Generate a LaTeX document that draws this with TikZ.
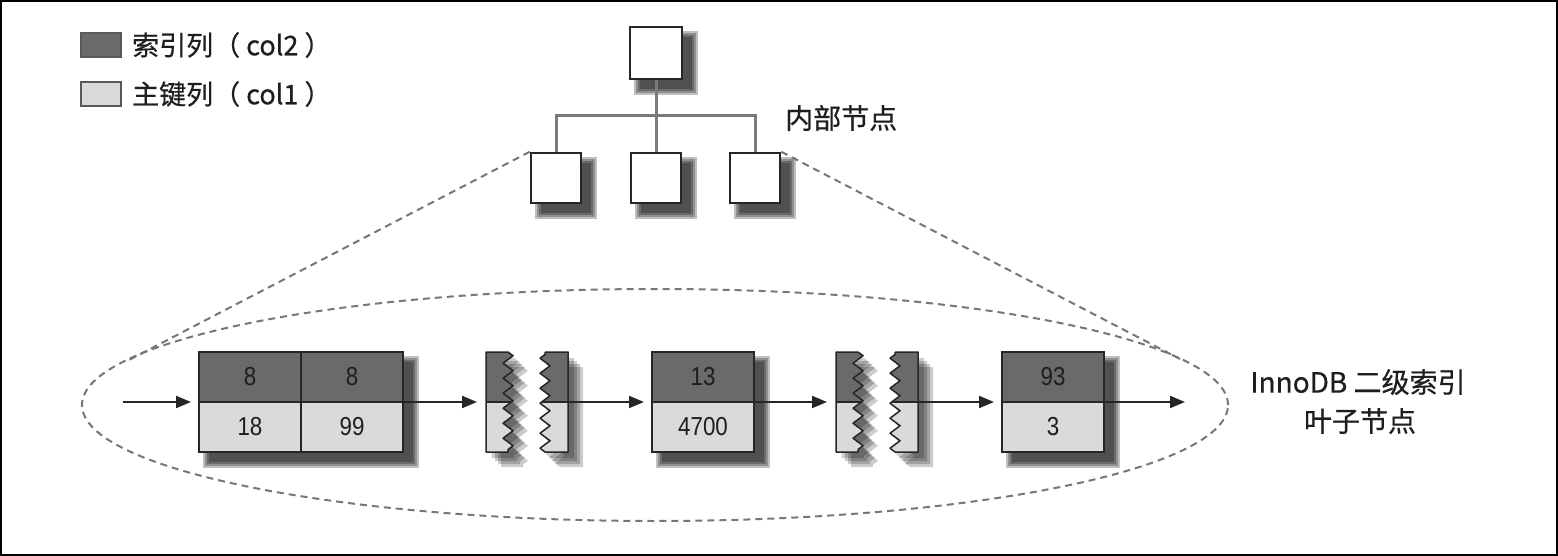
\documentclass[tikz,border=0pt]{standalone}
\usepackage{fontspec}
\setmainfont{Liberation Sans}
\newfontfamily\numfont[FakeStretch=0.86]{Liberation Sans}
\newfontfamily\cjk[FakeBold=0.5]{Noto Sans CJK SC}
\usetikzlibrary{arrows.meta,decorations.pathmorphing}
\definecolor{darkc}{HTML}{6A6A6A}
\definecolor{lightc}{HTML}{DADADA}
\definecolor{linec}{HTML}{262626}
\definecolor{dashc}{HTML}{777777}
\definecolor{treec}{HTML}{7A7A7A}
\definecolor{txtc}{HTML}{1E1E1E}
\newcommand{\fuzzshadow}[4]{%
  \foreach \q in {6,4,2,0}{\fill[black,opacity=0.25] (#1+10-\q,#2+10-\q) rectangle (#3+10+\q,#4+10+\q);}}
\newcommand{\tornpart}[1]{%
  \foreach \d in {6,9,12,15}{\fill[black,opacity=0.2,shift={(\d,\d)}] #1;}%
  \begin{scope}\clip #1;
    \fill[darkc] (400,340) rectangle (1000,402);
    \fill[lightc] (400,402) rectangle (1000,470);
    \draw[linec,line width=1.5pt] (400,402) -- (1000,402);
  \end{scope}%
  \draw[linec,line width=1.5pt,line join=round] #1;}
\tikzset{
  zz/.style={decoration={zigzag,segment length=15pt,amplitude=5pt}},
  legbox/.style={draw=black!65,line width=2pt,minimum width=40pt,minimum height=24pt,inner sep=0pt},
  legtext/.style={text=txtc,font=\cjk\fontsize{27}{30}\selectfont,inner sep=0pt},
  cjktext/.style={text=txtc,font=\cjk\fontsize{28}{32}\selectfont,inner sep=0pt},
  tbox/.style={draw=linec,line width=2.5pt,fill=white,minimum size=50pt,inner sep=0pt},
  treeline/.style={draw=treec,line width=3pt},
  dashln/.style={draw=dashc,line width=2pt,dash pattern=on 7pt off 5pt},
  cellbase/.style={draw=linec,line width=1.5pt,minimum width=102pt,minimum height=50pt,inner sep=0pt,outer sep=0pt,text=txtc,font=\numfont\fontsize{26}{28}\selectfont},
  kcell/.style={cellbase,fill=darkc},
  pcell/.style={cellbase,fill=lightc},
  arr/.style={draw=linec,line width=2pt,-{Triangle[length=15pt,width=12pt]},shorten >=8pt}
}
\begin{document}
\begin{tikzpicture}[x=1pt,y=-1pt]
\useasboundingbox (0,0) rectangle (1558,556);
\fill[white] (0,0) rectangle (1558,556);
\draw[black,line width=2pt] (1,1) rectangle (1557,555);

% legend
\node[legbox,fill=darkc] (lk) at (101,45) {};
\node[legtext,anchor=west] (lkt) at (132,45) {索引列（ col2 ）};
\node[legbox,fill=lightc] (lp) at (101,94) {};
\node[legtext,anchor=west] (lpt) at (132,94) {主键列（ col1 ）};

% leaf ellipse
\draw[dashln] (655,405) ellipse [x radius=573pt, y radius=116pt];

% tree
\fuzzshadow{630}{27}{682}{79}
\fuzzshadow{531}{153}{581}{203}
\fuzzshadow{631}{153}{681}{203}
\fuzzshadow{730}{153}{780}{203}
\coordinate (rootc) at (656,53);
\node[tbox,minimum size=52pt] (root) at (rootc) {};
\node[tbox] (c1) at (556,178) {};
\node[tbox] (c2) at (656,178) {};
\node[tbox] (c3) at (755,178) {};
\draw[treeline] (root.south) -- (c2.north);
\draw[treeline] (c1.north) -- ++(0,-36) -| (c3.north);
\node[cjktext,anchor=west] (inl) at (785,118) {内部节点};

% dashed lines from internal nodes to leaf region
\coordinate (eL) at (127,361);
\coordinate (eR) at (1180,359);
\draw[dashln] (c1.north west) -- (eL);
\draw[dashln] (c3.north east) -- (eR);

% shadows of records
\fuzzshadow{199}{352}{403}{452}
\fuzzshadow{652}{352}{754}{452}
\fuzzshadow{1002}{352}{1104}{452}

% connector points
\coordinate (a0) at (123,402);
\coordinate (t1L) at (485,402);
\coordinate (t1R) at (568,402);
\coordinate (t2L) at (835,402);
\coordinate (t2R) at (918,402);
\coordinate (aE) at (1185,402);

% records
\node[kcell] (r1a) at (250,377) {8};
\node[kcell] (r1b) at (352,377) {8};
\node[pcell] (r1c) at (250,427) {18};
\node[pcell] (r1d) at (352,427) {99};
\node[kcell] (r2a) at (703,377) {13};
\node[pcell] (r2b) at (703,427) {4700};
\node[kcell] (r3a) at (1053,377) {93};
\node[pcell] (r3b) at (1053,427) {3};

% torn pages
\tornpart{(486,352) -- (508,352) decorate[zz]{-- (508,452)} -- (486,452) -- cycle}
\tornpart{(545,352) -- (568,352) -- (568,452) -- (545,452) decorate[zz]{-- (545,352)}}
\tornpart{(836,352) -- (858,352) decorate[zz]{-- (858,452)} -- (836,452) -- cycle}
\tornpart{(895,352) -- (918,352) -- (918,452) -- (895,452) decorate[zz]{-- (895,352)}}

% arrows
\draw[arr] (a0) -- (r1a.south west);
\draw[arr] (r1b.south east) -- (t1L);
\draw[arr] (t1R) -- (r2a.south west);
\draw[arr] (r2a.south east) -- (t2L);
\draw[arr] (t2R) -- (r3a.south west);
\draw[arr,shorten >=0pt] (r3a.south east) -- (aE);

% leaf label
\node[cjktext] (leaf1) at (1358,382) {InnoDB 二级索引};
\node[cjktext] (leaf2) at (1360,421) {叶子节点};
\end{tikzpicture}
\end{document}
